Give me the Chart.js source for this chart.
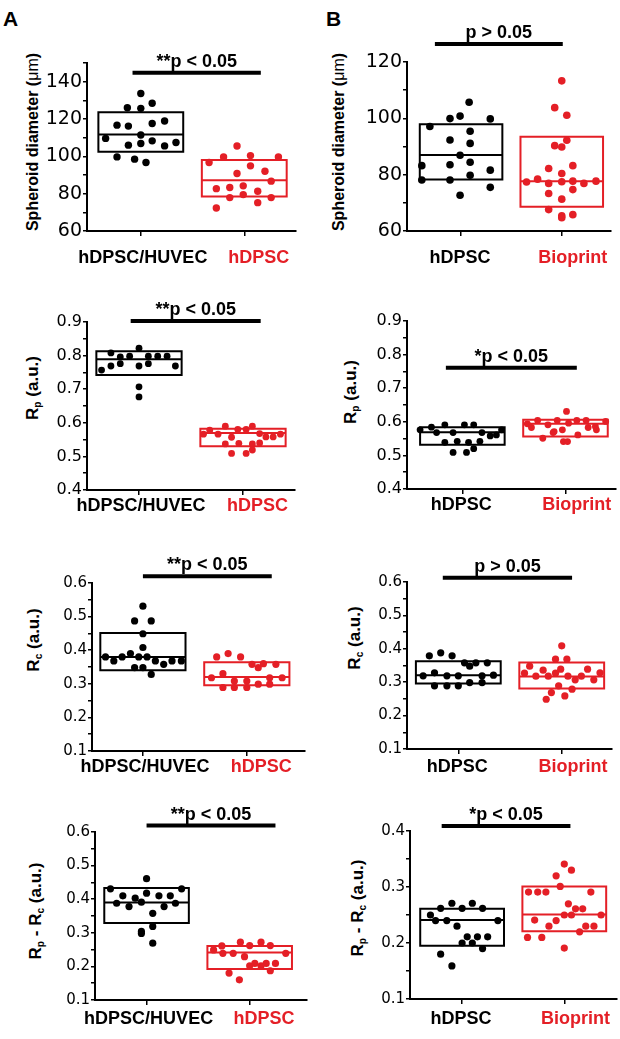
<!DOCTYPE html>
<html><head><meta charset="utf-8">
<script src="https://cdn.jsdelivr.net/npm/chart.js@4/dist/chart.umd.min.js"></script>
<style>
html,body{margin:0;padding:0;background:#fff;}
body{width:620px;height:1039px;position:relative;overflow:hidden;font-family:"Liberation Sans",Arial,sans-serif;color:#000;}
canvas{position:absolute;}
.ttl{position:absolute;transform:translate(-50%,-50%) rotate(-90deg);white-space:nowrap;font-weight:bold;line-height:1;}
.ttl sub{font-size:0.6em;vertical-align:-0.3em;line-height:0;}
.letter{position:absolute;font-weight:bold;font-size:21px;line-height:1;}
</style></head><body>
<div class="letter" style="left:3px;top:8px">A</div>
<div class="letter" style="left:326px;top:8px">B</div>
<div class="ttl" style="left:33px;top:142px;font-size:16px">Spheroid diameter (<span style="font-weight:normal">μm</span>)</div>
<div class="ttl" style="left:339px;top:142px;font-size:16px">Spheroid diameter (<span style="font-weight:normal">μm</span>)</div>
<div class="ttl" style="left:32px;top:388px;font-size:17px">R<sub>p</sub> (a.u.)</div>
<div class="ttl" style="left:350px;top:392px;font-size:17px">R<sub>p</sub> (a.u.)</div>
<div class="ttl" style="left:33px;top:640px;font-size:17px">R<sub>c</sub> (a.u.)</div>
<div class="ttl" style="left:354px;top:638px;font-size:17px">R<sub>c</sub> (a.u.)</div>
<div class="ttl" style="left:35px;top:911px;font-size:17px">R<sub>p</sub> - R<sub>c</sub> (a.u.)</div>
<div class="ttl" style="left:357px;top:908px;font-size:17px">R<sub>p</sub> - R<sub>c</sub> (a.u.)</div>
<script>
// ---------- categories & tick labels ----------
const groupsA = ['hDPSC/HUVEC', 'hDPSC'];
const groupsB = ['hDPSC', 'Bioprint'];
const ticksDiam1 = [60, 80, 100, 120, 140];
const ticksDiam2 = [60, 80, 100, 120];
const ticksRp = [0.4, 0.5, 0.6, 0.7, 0.8, 0.9];
const ticksRc = [0.1, 0.2, 0.3, 0.4, 0.5, 0.6];
const ticksDiffA = [0.1, 0.2, 0.3, 0.4, 0.5, 0.6];
const ticksDiffB = [0.1, 0.2, 0.3, 0.4];

// ---------- box statistics [q1, median, q3] ----------
const a1Box = [[102.5, 111.7, 123.6], [78.5, 87.2, 98.0]];
const b1Box = [[78.3, 87.0, 97.9], [68.6, 77.7, 93.5]];
const a2Box = [[0.742, 0.789, 0.813], [0.530, 0.570, 0.582]];
const b2Box = [[0.532, 0.569, 0.584], [0.556, 0.594, 0.606]];
const a3Box = [[0.340, 0.380, 0.451], [0.296, 0.320, 0.364]];
const b3Box = [[0.296, 0.321, 0.363], [0.281, 0.317, 0.359]];
const a4Box = [[0.329, 0.390, 0.433], [0.192, 0.241, 0.261]];
const b4Box = [[0.195, 0.241, 0.261], [0.221, 0.251, 0.301]];

// ---------- individual points (position on x, value) ----------
const a1BlackPos = [1.00,0.87,1.00,1.11,0.77,0.88,1.11,1.23,0.66,1.00,0.88,1.00,1.11,1.23,1.34,0.77,0.94,1.05];
const a1BlackVal = [133.7,126.0,125.7,128.4,116.7,116.2,117.6,118.9,109.6,111.4,106.0,106.9,108.3,105.6,107.4,99.7,98.5,96.7];
const a1RedPos = [1.93,1.66,1.80,2.06,2.33,2.06,1.93,2.20,2.26,1.73,1.86,1.99,2.13,1.86,1.99,2.26,2.13,1.73];
const a1RedVal = [105.5,96.7,99.7,100.4,99.7,94.9,90.8,92.0,86.7,82.7,83.3,84.2,81.3,77.9,79.5,77.9,75.2,72.3];

const b1BlackPos = [1.08,0.89,0.99,1.29,0.69,0.89,1.09,1.09,0.99,0.61,0.89,1.09,1.29,1.09,0.61,0.89,1.29,0.99];
const b1BlackVal = [105.7,99.9,100.8,99.8,97.1,92.3,95.4,91.1,86.9,83.2,83.5,84.4,81.6,79.8,78.1,78.1,75.5,72.7];
const b1RedPos = [2.00,1.93,2.05,2.05,1.93,2.00,1.87,2.11,2.00,1.65,1.76,1.87,2.00,2.11,2.22,2.34,1.87,2.11,2.00,1.87,2.00,2.00,2.11];
const b1RedVal = [113.3,103.8,101.1,92.2,90.3,89.8,82.2,83.2,80.4,77.4,78.4,76.9,77.5,77.7,76.9,77.7,73.3,74.7,71.3,67.6,65.4,64.7,65.8];

const a2BlackPos = [0.64,0.73,0.73,0.82,0.82,0.91,1.00,1.00,1.09,1.09,1.18,1.27,1.35,1.00,1.00];
const a2BlackVal = [0.757,0.808,0.769,0.776,0.796,0.798,0.822,0.769,0.798,0.776,0.798,0.798,0.769,0.707,0.677];
const a2RedPos = [1.68,1.83,1.95,2.03,2.09,1.62,1.76,2.16,2.22,2.29,2.36,1.89,1.83,1.96,2.09,2.16,1.89,2.03,2.09];
const a2RedVal = [0.578,0.590,0.580,0.580,0.590,0.566,0.566,0.568,0.558,0.558,0.566,0.557,0.537,0.539,0.537,0.540,0.509,0.509,0.519];

const b2BlackPos = [0.59,0.70,0.75,0.83,0.91,1.02,1.11,1.19,1.27,1.33,1.38,0.83,0.95,1.06,1.17,0.91,1.04,1.11];
const b2BlackVal = [0.576,0.584,0.568,0.591,0.568,0.591,0.591,0.568,0.558,0.561,0.576,0.539,0.542,0.539,0.542,0.509,0.509,0.520];
const b2RedPos = [2.01,1.63,1.73,1.83,1.92,2.03,2.11,2.20,2.29,2.39,1.89,1.97,2.12,2.30,1.78,1.88,1.98,2.02,1.67,2.22];
const b2RedVal = [0.631,0.594,0.604,0.591,0.604,0.596,0.604,0.604,0.586,0.601,0.571,0.576,0.561,0.576,0.551,0.568,0.541,0.541,0.583,0.583];

const a3BlackPos = [1.00,0.92,1.08,1.00,1.00,0.64,0.72,0.80,0.88,0.96,1.04,1.12,1.20,1.28,1.37,0.92,1.00,1.08];
const a3BlackVal = [0.531,0.487,0.487,0.449,0.408,0.380,0.368,0.380,0.390,0.380,0.380,0.368,0.358,0.368,0.368,0.348,0.348,0.328];
const a3RedPos = [1.71,1.82,1.94,2.05,2.11,2.16,2.28,1.66,1.77,1.88,2.00,2.11,2.22,2.34,1.77,1.88,2.00,2.22];
const a3RedVal = [0.380,0.390,0.380,0.358,0.348,0.360,0.358,0.318,0.330,0.308,0.308,0.299,0.318,0.318,0.289,0.289,0.289,0.299];

const b3BlackPos = [0.72,0.83,0.94,1.06,1.11,1.17,1.28,0.66,0.77,0.89,1.00,1.23,1.34,0.77,0.89,1.00,1.11,1.23];
const b3BlackVal = [0.379,0.388,0.379,0.358,0.348,0.358,0.358,0.319,0.328,0.319,0.319,0.319,0.321,0.289,0.289,0.289,0.299,0.299];
const b3RedPos = [2.00,1.94,2.05,1.69,1.82,1.99,1.94,2.25,1.64,1.75,1.87,2.06,2.19,2.37,2.13,2.31,1.97,2.10,1.90,2.03,1.85];
const b3RedVal = [0.409,0.369,0.369,0.348,0.336,0.339,0.327,0.339,0.327,0.318,0.318,0.318,0.318,0.328,0.307,0.307,0.289,0.279,0.269,0.259,0.249];

const a4BlackPos = [1.00,0.65,1.34,0.77,0.71,0.83,0.89,0.95,1.00,1.12,1.17,1.23,1.28,1.06,1.06,0.95,0.95,1.06];
const a4BlackVal = [0.461,0.431,0.431,0.410,0.388,0.378,0.403,0.391,0.418,0.410,0.378,0.410,0.388,0.358,0.319,0.304,0.298,0.269];
const a4RedPos = [1.73,1.91,2.00,2.11,2.20,1.65,1.74,1.84,1.95,2.35,2.00,2.05,2.11,2.16,2.25,2.20,1.80,1.90];
const a4RedVal = [0.261,0.272,0.262,0.272,0.262,0.249,0.239,0.239,0.229,0.239,0.202,0.209,0.202,0.209,0.209,0.187,0.180,0.160];

const b4BlackPos = [0.69,0.79,0.74,0.85,0.90,0.95,1.00,1.10,1.20,1.35,1.05,1.15,1.25,1.00,1.10,1.20,0.79,0.90];
const b4BlackVal = [0.250,0.262,0.240,0.240,0.271,0.230,0.262,0.271,0.262,0.240,0.211,0.211,0.211,0.200,0.200,0.190,0.180,0.159];
const b4RedPos = [2.00,2.07,1.92,1.96,1.65,1.74,1.82,2.26,2.04,2.11,2.18,2.00,2.07,2.36,1.71,1.92,1.85,2.21,2.29,2.15,1.64,1.78,2.00];
const b4RedVal = [0.341,0.330,0.320,0.301,0.291,0.291,0.291,0.291,0.270,0.261,0.261,0.250,0.250,0.250,0.241,0.240,0.230,0.230,0.230,0.220,0.210,0.210,0.191];

// ---------- significance annotations ----------
const sigTexts = ['**p < 0.05', 'p > 0.05', '**p < 0.05', '*p < 0.05', '**p < 0.05', 'p > 0.05', '**p < 0.05', '*p < 0.05'];
const sigLevels = [144.8, 126.4, 0.903, 0.761, 0.620, 0.613, 0.619, 0.409];
const sigSpans = [[0.92,2.16],[0.74,2.01],[0.92,2.17],[0.84,2.11],[1.00,2.24],[0.85,2.10],[1.00,2.25],[0.80,2.06]];

// ---------- styling / layout ----------
const BLACK = '#000000', RED = '#e41f26';
const COLORS = [BLACK, RED];
const CATS = [1, 2];
const HW = 0.41;

const sigPlugin = {
  id: 'sig',
  afterDatasetsDraw(chart, args, opts) {
    const xs = chart.scales.x, ys = chart.scales.y, ctx = chart.ctx;
    const px = (xs.getPixelForValue(opts.span[0]) + xs.getPixelForValue(opts.span[1])) / 2;
    const py = ys.getPixelForValue(opts.level);
    ctx.save();
    ctx.font = 'bold 18px "Liberation Sans", Arial, sans-serif';
    ctx.fillStyle = '#000';
    ctx.textAlign = 'center';
    ctx.textBaseline = 'alphabetic';
    ctx.fillText(opts.text, px, py - 6);
    ctx.restore();
  }
};

function panel(p) {
  const cv = document.createElement('canvas');
  cv.width = p.w; cv.height = p.h;
  cv.style.left = p.left + 'px'; cv.style.top = p.top + 'px';
  cv.style.width = p.w + 'px'; cv.style.height = p.h + 'px';
  document.body.appendChild(cv);
  const ds = [];
  p.pts.forEach((g, gi) => {
    ds.push({type: 'scatter', data: g[0].map((x, i) => ({x: x, y: g[1][i]})),
      pointRadius: p.r, pointHoverRadius: p.r, pointBackgroundColor: COLORS[gi],
      pointBorderColor: COLORS[gi], pointBorderWidth: 0, order: 0, clip: false});
  });
  p.box.forEach((b, gi) => {
    const x1 = CATS[gi] - HW, x2 = CATS[gi] + HW;
    ds.push({type: 'line', data: [{x: x1, y: b[0]}, {x: x1, y: b[2]}, {x: x2, y: b[2]}, {x: x2, y: b[0]}, {x: x1, y: b[0]}, {x: x1, y: b[2]}],
      borderColor: COLORS[gi], borderWidth: 2, pointRadius: 0, fill: false, tension: 0,
      borderJoinStyle: 'miter', order: 1, clip: false});
    ds.push({type: 'line', data: [{x: x1, y: b[1]}, {x: x2, y: b[1]}],
      borderColor: COLORS[gi], borderWidth: 2, pointRadius: 0, fill: false, order: 1, clip: false});
  });
  ds.push({type: 'line', data: [{x: p.sigSpan[0], y: p.sigLevel}, {x: p.sigSpan[1], y: p.sigLevel}],
    borderColor: '#000', borderWidth: 4, pointRadius: 0, fill: false, order: 2, clip: false});

  new Chart(cv, {
    type: 'scatter',
    data: {datasets: ds},
    plugins: [sigPlugin],
    options: {
      responsive: false, animation: false, events: [],
      layout: {padding: {left: 0, right: p.padR, top: p.padT, bottom: 0}},
      plugins: {legend: {display: false}, tooltip: {enabled: false},
        sig: {text: p.sigText, level: p.sigLevel, span: p.sigSpan}},
      scales: {
        x: {type: 'linear', min: p.xmin, max: p.xmax, weight: 0,
          afterBuildTicks: s => { s.ticks = CATS.map(v => ({value: v})); },
          afterFit: s => { s.height = 5; },
          ticks: {display: false},
          grid: {drawOnChartArea: false, tickLength: 5, color: '#000', lineWidth: 1.5},
          border: {color: '#000', width: 2}},
        x2: {type: 'linear', position: 'bottom', min: p.xmin, max: p.xmax, weight: 1,
          afterBuildTicks: s => { s.ticks = p.labelPos.map(v => ({value: v})); },
          afterFit: s => { s.height = p.x2H; },
          grid: {display: false, drawTicks: false}, border: {display: false},
          ticks: {maxRotation: 0, minRotation: 0, autoSkip: false, padding: p.lp,
            font: {family: '"Liberation Sans", Arial, sans-serif', size: 18, weight: 'bold'},
            color: ctx => COLORS[ctx.index],
            callback: (v, i) => p.names[i]}},
        y: {type: 'linear', min: p.ymin, max: p.ymax,
          afterFit: s => { s.width = p.yW; },
          ticks: {stepSize: p.step, autoSkip: false, padding: 1, color: '#000',
            font: {family: p.tf, size: p.ts},
            callback: v => p.tickLabels.some(t => Math.abs(t - v) < 1e-7) ? (p.dec === 0 ? String(Math.round(v)) : v.toFixed(p.dec)) : ''},
          grid: {drawOnChartArea: false, tickLength: 4, color: '#000', lineWidth: 1.5},
          border: {color: '#000', width: 2}}
      }
    }
  });
}

const DJ = '"DejaVu Sans", sans-serif';
const labelPosA = [1.02, 2.14];
const labelPosB = [0.99, 2.11];

panel({left: 0, top: 0, w: 310, h: 272, yW: 87, padR: 14, padT: 63, x2H: 36, lp: 11, xmin: 0.48, xmax: 2.5,
  ymin: 60, ymax: 150, step: 10, tickLabels: ticksDiam1, dec: 0, tf: DJ, ts: 19, r: 3.7,
  names: groupsA, labelPos: labelPosA, box: a1Box, pts: [[a1BlackPos, a1BlackVal], [a1RedPos, a1RedVal]],
  sigText: sigTexts[0], sigLevel: sigLevels[0], sigSpan: sigSpans[0]});
panel({left: 310, top: 0, w: 310, h: 272, yW: 97, padR: 4, padT: 62, x2H: 36, lp: 11, xmin: 0.463, xmax: 2.49,
  ymin: 60, ymax: 120, step: 10, tickLabels: ticksDiam2, dec: 0, tf: DJ, ts: 19, r: 3.8,
  names: groupsB, labelPos: labelPosB, box: b1Box, pts: [[b1BlackPos, b1BlackVal], [b1RedPos, b1RedVal]],
  sigText: sigTexts[1], sigLevel: sigLevels[1], sigSpan: sigSpans[1]});
panel({left: 0, top: 272, w: 310, h: 258, yW: 87, padR: 15, padT: 50, x2H: 35, lp: 0, xmin: 0.5, xmax: 2.5,
  ymin: 0.4, ymax: 0.9, step: 0.05, tickLabels: ticksRp, dec: 1, tf: DJ, ts: 16, r: 3.4,
  names: groupsA, labelPos: labelPosA, box: a2Box, pts: [[a2BlackPos, a2BlackVal], [a2RedPos, a2RedVal]],
  sigText: sigTexts[2], sigLevel: sigLevels[2], sigSpan: sigSpans[2]});
panel({left: 310, top: 272, w: 310, h: 258, yW: 97, padR: 4, padT: 49, x2H: 36, lp: 0, xmin: 0.463, xmax: 2.49,
  ymin: 0.4, ymax: 0.9, step: 0.05, tickLabels: ticksRp, dec: 1, tf: DJ, ts: 16, r: 3.4,
  names: groupsB, labelPos: labelPosB, box: b2Box, pts: [[b2BlackPos, b2BlackVal], [b2RedPos, b2RedVal]],
  sigText: sigTexts[3], sigLevel: sigLevels[3], sigSpan: sigSpans[3]});
panel({left: 0, top: 530, w: 310, h: 255, yW: 92, padR: 5, padT: 53, x2H: 29, lp: 0, xmin: 0.51, xmax: 2.56,
  ymin: 0.1, ymax: 0.6, step: 0.05, tickLabels: ticksRc, dec: 1, tf: DJ, ts: 15, r: 3.6,
  names: groupsA, labelPos: labelPosA, box: a3Box, pts: [[a3BlackPos, a3BlackVal], [a3RedPos, a3RedVal]],
  sigText: sigTexts[4], sigLevel: sigLevels[4], sigSpan: sigSpans[4]});
panel({left: 310, top: 530, w: 310, h: 255, yW: 97, padR: 8, padT: 52, x2H: 31, lp: 2, xmin: 0.504, xmax: 2.486,
  ymin: 0.1, ymax: 0.6, step: 0.05, tickLabels: ticksRc, dec: 1, tf: DJ, ts: 15, r: 3.6,
  names: groupsB, labelPos: labelPosB, box: b3Box, pts: [[b3BlackPos, b3BlackVal], [b3RedPos, b3RedVal]],
  sigText: sigTexts[5], sigLevel: sigLevels[5], sigSpan: sigSpans[5]});
panel({left: 0, top: 785, w: 310, h: 254, yW: 95, padR: 3, padT: 47, x2H: 34, lp: 3, xmin: 0.5, xmax: 2.55,
  ymin: 0.1, ymax: 0.6, step: 0.05, tickLabels: ticksDiffA, dec: 1, tf: DJ, ts: 15, r: 3.6,
  names: groupsA, labelPos: labelPosA, box: a4Box, pts: [[a4BlackPos, a4BlackVal], [a4RedPos, a4RedVal]],
  sigText: sigTexts[6], sigLevel: sigLevels[6], sigSpan: sigSpans[6]});
panel({left: 310, top: 785, w: 310, h: 254, yW: 100, padR: 2, padT: 46, x2H: 35, lp: 4, xmin: 0.49, xmax: 2.51,
  ymin: 0.1, ymax: 0.4, step: 0.05, tickLabels: ticksDiffB, dec: 1, tf: DJ, ts: 15, r: 3.6,
  names: groupsB, labelPos: labelPosB, box: b4Box, pts: [[b4BlackPos, b4BlackVal], [b4RedPos, b4RedVal]],
  sigText: sigTexts[7], sigLevel: sigLevels[7], sigSpan: sigSpans[7]});
</script>
</body></html>
